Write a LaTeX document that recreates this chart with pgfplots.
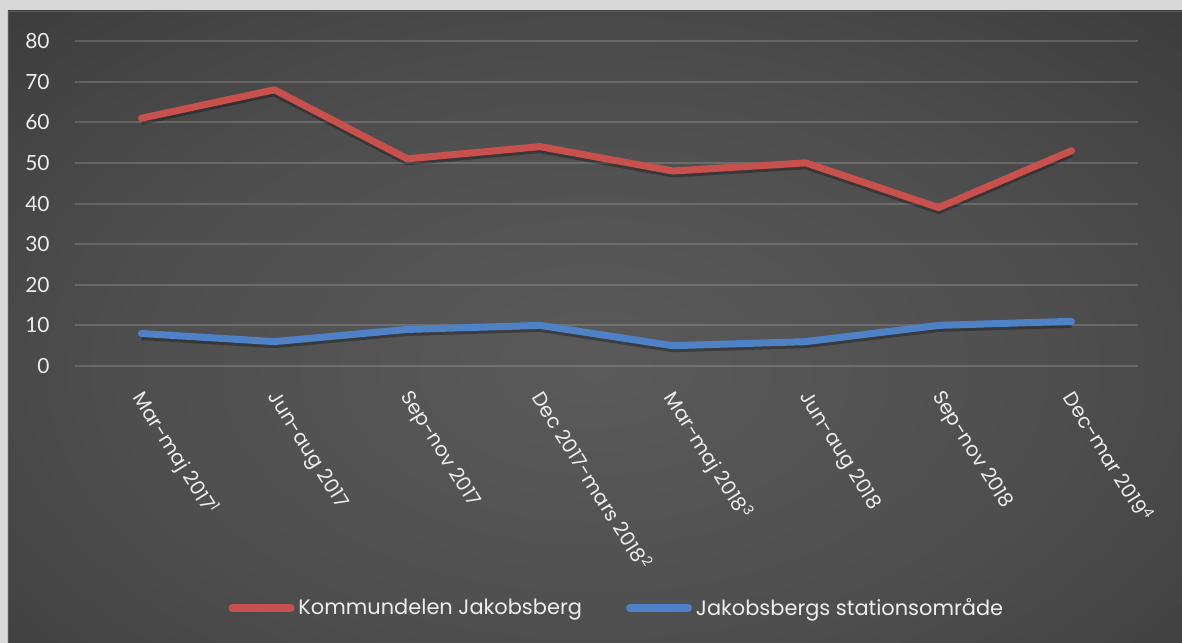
\documentclass[border=0pt]{standalone}
\usepackage{fontspec}
\setmainfont{Poppins}
\newfontfamily\latofont{Lato}
\usepackage{pgfplots}
\pgfplotsset{compat=1.18}

\definecolor{redline}{HTML}{C8504D}
\definecolor{blueline}{HTML}{4F81C6}
\definecolor{framegray}{HTML}{D8D8D8}
\definecolor{textc}{HTML}{EEEEEE}
\definecolor{bgc}{HTML}{5A5A5A}
\definecolor{bgb}{HTML}{4E4E4E}
\definecolor{bga}{HTML}{2E2E2E}
\definecolor{bgd}{HTML}{242424}
\pgfdeclareradialshading{bgshade}{\pgfpoint{0bp}{0bp}}{color(0bp)=(bgc); color(18bp)=(bgb); color(45bp)=(bga); color(71bp)=(bgd)}

\begin{document}
\begin{tikzpicture}
% background panel, coordinates in reference pixels
\begin{scope}[x=0.5bp,y=-0.5bp]
\fill[framegray] (0,0) rectangle (1182,643);
\begin{scope}
\clip (8,11) rectangle (1182,643);
\shade[shading=bgshade] (-60,-20) rectangle (1250,760);
\end{scope}
\draw[gray!70!black, line width=0.6bp] (8.5,643) -- (8.5,11.5) -- (1182,11.5);
\end{scope}

\begin{axis}[
    at={(37.5bp,-183bp)}, anchor=south west,
    scale only axis,
    width=531.5bp, height=162.5bp,
    xmin=-0.5, xmax=7.5,
    ymin=0, ymax=80,
    ytick={0,10,...,80},
    xtick={0,...,7},
    xticklabels={Mar-maj 2017\textsuperscript{1}, Jun-aug 2017, Sep-nov 2017,
      Dec 2017-mars 2018\textsuperscript{2}, Mar-maj 2018\textsuperscript{3},
      Jun-aug 2018, Sep-nov 2018, Dec-mar 2019\textsuperscript{4}},
    ymajorgrids,
    grid style={white, opacity=0.16, line width=1bp},
    axis line style={draw=none},
    major tick length=0pt,
    /pgf/number format/assume math mode=true,
    tick label style={text=textc},
    yticklabel style={font=\latofont\fontsize{10.5}{12}\selectfont, inner sep=0pt, xshift=-12.5bp},
    xticklabel style={xshift=3bp, yshift=-11bp, rotate=-58, anchor=north west, inner sep=0pt,
      font=\fontsize{10}{12}\selectfont},
    legend style={at={(0.144,-0.745)}, anchor=west, draw=none, fill=none,
      text=textc, font=\fontsize{10.5}{12}\selectfont, inner sep=0pt,
      legend columns=2,
      /tikz/every even column/.append style={column sep=20bp}},
    legend image code/.code={\draw[#1, line cap=round, line width=4bp] (0bp,0bp) -- (29bp,0bp);},
]
\addplot[black, opacity=0.3, line width=3.5bp, line join=round, forget plot,
  transform canvas={yshift=-1.5bp}] coordinates {
  (0,61) (1,68) (2,51) (3,54) (4,48) (5,50) (6,39) (7,53)};
\addplot[black, opacity=0.3, line width=3.5bp, line join=round, forget plot,
  transform canvas={yshift=-1.5bp}] coordinates {
  (0,8) (1,6) (2,9) (3,10) (4,5) (5,6) (6,10) (7,11)};
\addplot[redline, line width=3.5bp, line join=round, line cap=round] coordinates {
  (0,61) (1,68) (2,51) (3,54) (4,48) (5,50) (6,39) (7,53)};
\addlegendentry{Kommundelen Jakobsberg}
\addplot[blueline, line width=3.5bp, line join=round, line cap=round] coordinates {
  (0,8) (1,6) (2,9) (3,10) (4,5) (5,6) (6,10) (7,11)};
\addlegendentry{Jakobsbergs stationsområde}
\end{axis}
\pgfresetboundingbox
\useasboundingbox (0bp,0bp) rectangle (591bp,-321.5bp);
\end{tikzpicture}
\end{document}
